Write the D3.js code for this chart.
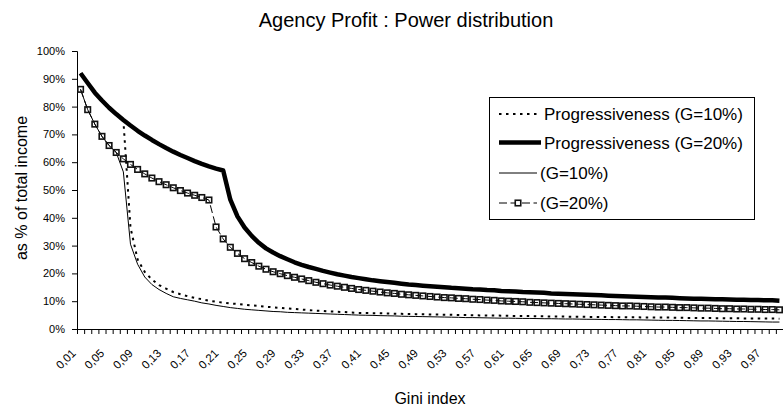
<!DOCTYPE html>
<html><head><meta charset="utf-8">
<script src="https://cdn.jsdelivr.net/npm/d3@7"></script>
<style>
body{margin:0;background:#fff}
svg{display:block}
text{font-family:"Liberation Sans",Arial,sans-serif;fill:#000}
</style>
</head><body>
<svg id="c" width="783" height="420"></svg>
<script>
// ---- data ----
const categories = d3.range(1, 100).map(i => i / 100); // Gini index 0.01 .. 0.99
const seriesNames = ["Progressiveness (G=10%)", "Progressiveness (G=20%)", "(G=10%)", "(G=20%)"];
const yTicks = [0, 10, 20, 30, 40, 50, 60, 70, 80, 90, 100];

const progG10 = [92.0,88.5,85.0,82.2,79.6,77.3,75.2,36.5,25.0,20.5,17.8,15.8,14.5,13.3,12.5,11.8,11.2,10.7,10.2,9.8,
9.5,9.2,9.0,8.7,8.5,8.3,8.0,7.8,7.6,7.4,7.2,7.0,6.8,6.6,6.5,6.3,6.2,6.1,5.9,5.8,
5.75,5.7,5.65,5.6,5.5,5.45,5.4,5.35,5.3,5.25,5.2,5.15,5.1,5.05,5.0,4.95,4.9,4.9,4.85,4.8,
4.75,4.7,4.7,4.65,4.6,4.55,4.5,4.5,4.45,4.4,4.4,4.35,4.35,4.3,4.3,4.25,4.25,4.2,4.2,4.15,
4.15,4.1,4.1,4.1,4.05,4.0,4.0,3.95,3.95,3.9,3.9,3.85,3.85,3.8,3.8,3.8,3.75,3.75,3.7];

const progG20 = [92.0,88.5,85.0,82.2,79.6,77.3,75.2,73.2,71.3,69.6,68.0,66.5,65.1,63.8,62.6,61.5,60.4,59.4,58.5,57.7,
57.0,46.5,40.5,36.5,33.5,31.0,29.0,27.5,26.2,25.1,24.0,23.1,22.3,21.6,20.9,20.3,19.7,19.2,18.7,18.3,
17.9,17.5,17.2,16.9,16.6,16.3,16.0,15.8,15.6,15.4,15.2,15.0,14.8,14.7,14.5,14.3,14.2,14.0,13.9,13.7,
13.6,13.5,13.3,13.2,13.1,13.0,12.8,12.7,12.6,12.5,12.4,12.3,12.2,12.1,12.0,11.9,11.8,11.7,11.6,11.5,
11.4,11.3,11.3,11.2,11.1,11.0,10.9,10.9,10.8,10.7,10.7,10.6,10.5,10.5,10.4,10.4,10.3,10.3,10.2];

const g10 = [86.2,78.9,73.7,69.3,66.0,63.5,56.5,30.5,23.3,18.7,16.0,14.2,12.8,11.6,11.0,10.5,10.0,9.4,9.0,8.5,
8.1,7.7,7.4,7.1,6.9,6.7,6.5,6.3,6.2,6.0,5.9,5.8,5.7,5.6,5.5,5.4,5.3,5.2,5.1,5.0,
4.95,4.9,4.8,4.75,4.7,4.6,4.55,4.5,4.45,4.4,4.35,4.3,4.25,4.2,4.1,4.1,4.05,4.0,3.95,3.9,
3.9,3.85,3.8,3.8,3.75,3.7,3.7,3.65,3.6,3.6,3.55,3.5,3.5,3.45,3.4,3.4,3.35,3.3,3.3,3.25,
3.2,3.15,3.1,3.1,3.05,3.0,2.95,2.9,2.9,2.85,2.8,2.75,2.7,2.7,2.65,2.6,2.55,2.5,2.5];

const g20 = [86.2,78.9,73.7,69.3,66.0,63.5,61.2,59.2,57.4,55.8,54.3,53.0,51.9,50.8,49.8,48.9,48.1,47.3,46.4,36.7,
32.4,29.4,27.2,25.3,23.9,22.6,21.5,20.6,19.9,19.2,18.6,18.0,17.4,16.8,16.3,15.8,15.4,15.0,14.6,14.2,
13.9,13.6,13.3,13.0,12.8,12.5,12.3,12.1,11.9,11.7,11.5,11.3,11.2,11.0,10.9,10.7,10.6,10.4,10.3,10.1,
10.0,9.9,9.8,9.6,9.5,9.4,9.3,9.2,9.1,9.0,8.9,8.8,8.7,8.6,8.5,8.4,8.3,8.3,8.2,8.1,
8.0,7.9,7.9,7.8,7.7,7.7,7.6,7.5,7.5,7.4,7.3,7.3,7.2,7.2,7.1,7.1,7.0,7.0,6.9];

// ---- chart ----
const svg = d3.select("#c");
const mLeft = 77, mRight = 783, mTop = 51, mBottom = 329;

const x = d3.scaleBand().domain(categories).range([mLeft, mRight]).padding(0);
const xb = d3.scaleLinear().domain([0, categories.length]).range([mLeft, mRight]);
const y = d3.scaleLinear().domain([0, 100]).range([mBottom, mTop]);
const cx = (d, i) => x(categories[i]) + x.bandwidth() / 2;
const fmt = d => d.toFixed(2).replace(".", ",");

// title
svg.append("text").attr("x", 406).attr("y", 27).attr("text-anchor", "middle")
  .style("font-size", "20px").text("Agency Profit : Power distribution");

// y axis
const yAx = svg.append("g").attr("transform", `translate(${mLeft},0)`)
  .call(d3.axisLeft(y).tickValues(yTicks).tickSize(5).tickPadding(7).tickFormat(d => d + "%"));
yAx.selectAll("text").style("font-size", "11px").style("font-family", '"Liberation Sans",Arial,sans-serif');
yAx.selectAll("path,line").attr("stroke", "#000");

// x axis boundary ticks
const xTickAx = svg.append("g").attr("transform", `translate(0,${mBottom})`)
  .call(d3.axisBottom(xb).tickValues(d3.range(0, categories.length + 1)).tickSize(5).tickFormat(""));
xTickAx.selectAll("path,line").attr("stroke", "#000");

// x labels
const xLab = svg.append("g").attr("transform", `translate(0,${mBottom})`)
  .call(d3.axisBottom(x).tickValues(categories.filter((d, i) => i % 4 === 0)).tickSize(0).tickFormat(fmt));
xLab.select(".domain").remove();
xLab.selectAll("text").attr("x", 0).attr("y", 0).attr("dy", 0)
  .attr("text-anchor", "end").attr("transform", "translate(-4,25) rotate(-45)")
  .style("font-size", "11.5px").style("font-family", '"Liberation Sans",Arial,sans-serif');

// axis titles
svg.append("text").attr("transform", "translate(27,188) rotate(-90)").attr("text-anchor", "middle")
  .style("font-size", "16px").text("as % of total income");
svg.append("text").attr("x", 430).attr("y", 404).attr("text-anchor", "middle")
  .style("font-size", "16px").text("Gini index");

// lines
const line = d3.line().x(cx).y(d => y(d));
const styles = [
  {data: progG10, width: 2, dash: "2.5,4.5"},
  {data: progG20, width: 4.5, dash: null},
  {data: g10, width: 1, dash: null},
  {data: g20, width: 1, dash: "8,3.5"}
];
const plot = svg.append("g");
styles.forEach(s => {
  plot.append("path").datum(s.data).attr("d", line).attr("fill", "none")
    .attr("stroke", "#000").attr("stroke-width", s.width)
    .attr("stroke-dasharray", s.dash).attr("stroke-linejoin", "round");
});
// markers for G=20%
plot.selectAll("rect.m").data(g20).join("rect").attr("class", "m")
  .attr("x", (d, i) => cx(d, i) - 2.75).attr("y", d => y(d) - 2.75)
  .attr("width", 5.5).attr("height", 5.5)
  .attr("fill", "none").attr("stroke", "#111").attr("stroke-width", 1.6);

// legend
const lg = svg.append("g");
lg.append("rect").attr("x", 489.5).attr("y", 97.5).attr("width", 265).attr("height", 122)
  .attr("fill", "#fff").attr("stroke", "#000");
const rowY = [114, 142.5, 173, 203];
seriesNames.forEach((name, i) => {
  const s = styles[i];
  const x1 = 499, x2 = i < 2 ? 541 : 537;
  lg.append("line").attr("x1", x1).attr("x2", x2).attr("y1", rowY[i]).attr("y2", rowY[i])
    .attr("stroke", "#000").attr("stroke-width", s.width).attr("stroke-dasharray", s.dash);
  if (i === 3) {
    lg.append("rect").attr("x", (x1 + x2) / 2 - 2.75).attr("y", rowY[i] - 2.75).attr("width", 5.5).attr("height", 5.5)
      .attr("fill", "#fff").attr("stroke", "#111").attr("stroke-width", 1.6);
  }
  lg.append("text").attr("x", x2 + 3).attr("y", rowY[i] + 6.2)
    .style("font-size", "17px").text(name);
});
</script>
</body></html>
